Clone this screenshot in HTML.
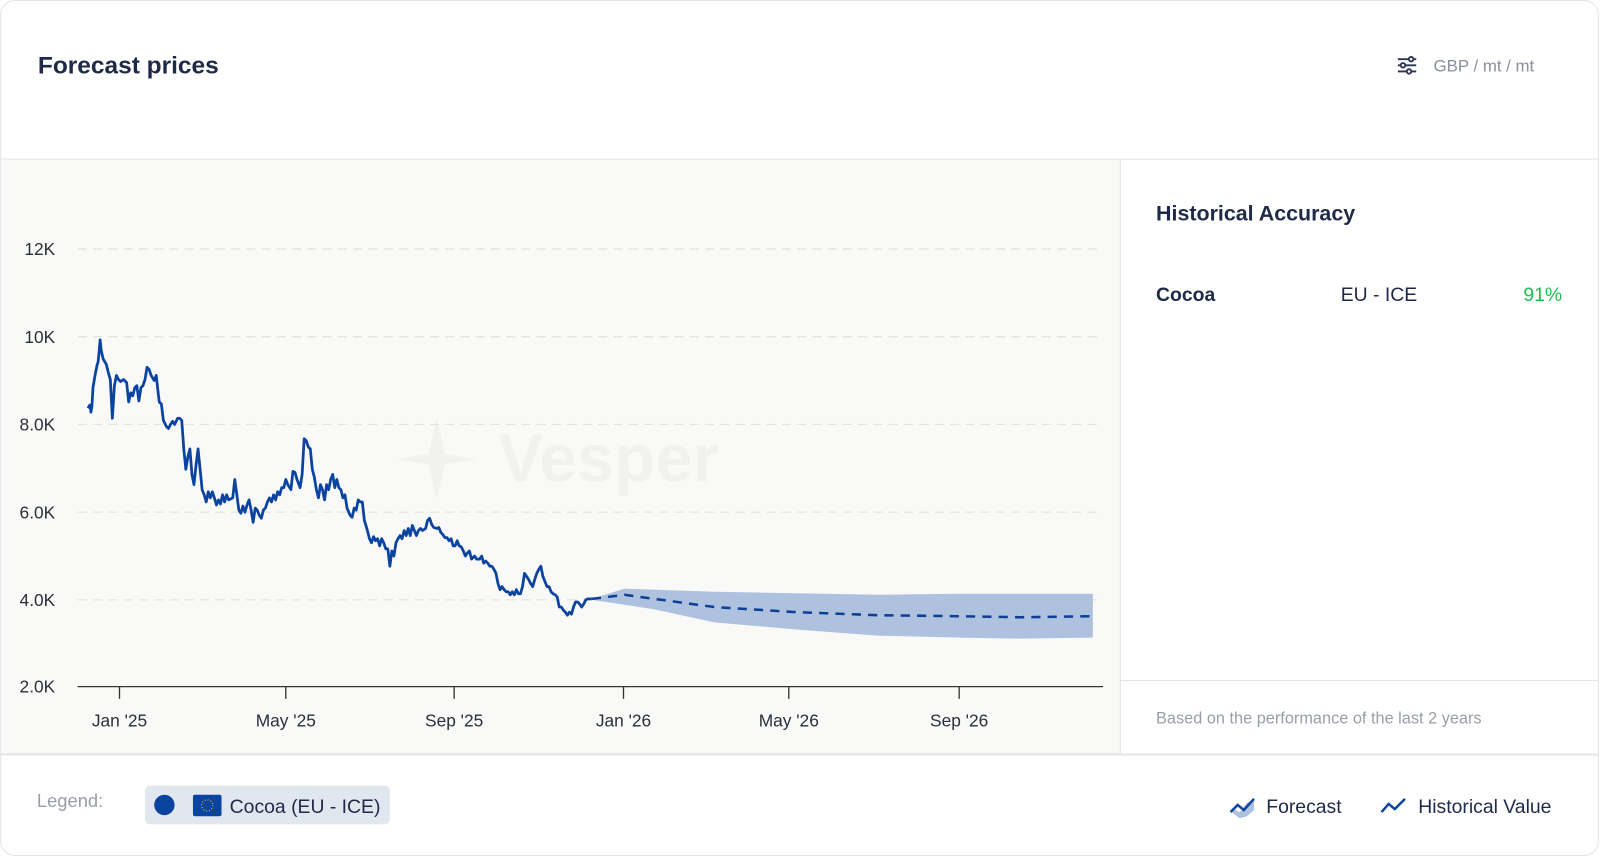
<!DOCTYPE html>
<html><head><meta charset="utf-8"><style>
html,body{margin:0;padding:0;background:#fff;width:1600px;height:857px;overflow:hidden}
svg{display:block}
text{font-family:"Liberation Sans",sans-serif}
</style></head><body>
<svg width="1600" height="857" viewBox="0 0 1568 840" xmlns="http://www.w3.org/2000/svg">
<rect x="0.5" y="0.5" width="1566" height="838" rx="14" fill="#fff" stroke="#e3e4e8"/>
<text x="37" y="72" font-size="24" font-weight="bold" fill="#1f2a48">Forecast prices</text>
<g stroke="#2a3350" stroke-width="1.8" fill="#fff">
<line x1="1370" y1="58" x2="1388" y2="58"/><line x1="1370" y1="64" x2="1388" y2="64"/><line x1="1370" y1="70" x2="1388" y2="70"/>
<circle cx="1383" cy="58" r="2.2"/><circle cx="1375" cy="64" r="2.2"/><circle cx="1381" cy="70" r="2.2"/>
</g>
<text x="1405" y="70" font-size="16.5" fill="#8a8f9e">GBP / mt / mt</text>
<line x1="1" y1="156" x2="1567" y2="156" stroke="#e3e4e8"/>
<rect x="1" y="157" width="1097" height="582" fill="#f9f9f7"/>
<line x1="1098" y1="157" x2="1098" y2="739" stroke="#e3e4e8"/>
<line x1="1" y1="739.5" x2="1567" y2="739.5" stroke="#e3e4e8" stroke-width="2"/>
<g opacity="0.035" fill="#445">
<path d="M428 410 L436 445 L468 450 L436 455 L428 490 L420 455 L388 450 L420 445 Z"/>
<text x="488" y="472" font-size="66" font-weight="bold">Vesper</text>
</g>
<g stroke="#dedede" stroke-dasharray="9 6" stroke-width="1">
<line x1="76" y1="244" x2="1080" y2="244"/><line x1="76" y1="330" x2="1080" y2="330"/>
<line x1="76" y1="416" x2="1080" y2="416"/><line x1="76" y1="502" x2="1080" y2="502"/>
<line x1="76" y1="588" x2="1080" y2="588"/>
</g>
<g font-size="17" fill="#2a2f3a" text-anchor="end">
<text x="54" y="250">12K</text><text x="54" y="336">10K</text><text x="54" y="422">8.0K</text>
<text x="54" y="508">6.0K</text><text x="54" y="594">4.0K</text><text x="54" y="679">2.0K</text>
</g>
<line x1="76" y1="673" x2="1081" y2="673" stroke="#333" stroke-width="1.3"/>
<g stroke="#333" stroke-width="1.3">
<line x1="117" y1="673" x2="117" y2="685"/><line x1="280" y1="673" x2="280" y2="685"/>
<line x1="445" y1="673" x2="445" y2="685"/><line x1="611" y1="673" x2="611" y2="685"/>
<line x1="773" y1="673" x2="773" y2="685"/><line x1="940" y1="673" x2="940" y2="685"/>
</g>
<g font-size="17" fill="#2a2f3a" text-anchor="middle">
<text x="117" y="712">Jan '25</text><text x="280" y="712">May '25</text><text x="445" y="712">Sep '25</text>
<text x="611" y="712">Jan '26</text><text x="773" y="712">May '26</text><text x="940" y="712">Sep '26</text>
</g>
<path d="M580 587 L612 577 L700 580 L860 583 L940 582 L1071 582 L1071 625 L1000 626 L940 625 L860 623 L780 617 L700 610 L640 597 L580 588 Z" fill="#aec2e0"/>
<path d="M580 587 L612 583 L700 595 L780 600 L860 603 L940 604 L1000 605 L1071 604" fill="none" stroke="#0d3f93" stroke-width="2.5" stroke-dasharray="9 7"/>
<polyline fill="none" stroke="#0b43a0" stroke-width="2.7" stroke-linejoin="round" points="86,400 88,397 89,404 90,398 91,380 93,368 95,358 96,355 97,345 98,333 99,343 101,352 104,357 106,365 108,372 110,410 112,378 114,368 116,372 118,374 121,372 124,375 126,394 128,385 130,388 132,380 134,378 136,393 138,380 140,378 142,372 144,360 146,362 148,368 151,373 153,368 155,386 156,394 158,396 160,412 163,418 165,420 167,416 169,413 171,416 174,410 176,410 178,412 180,440 182,460 184,448 186,440 188,465 190,475 192,456 194,440 196,460 198,480 200,485 202,492 204,482 206,488 208,482 210,488 212,495 214,490 216,494 218,485 220,492 222,485 224,490 228,488 230,470 232,485 234,500 236,503 238,496 240,502 242,495 244,490 246,500 248,512 250,498 252,500 254,505 256,508 258,500 260,498 262,492 264,488 266,492 268,485 270,490 272,482 274,485 276,478 278,478 280,470 282,475 285,480 287,462 289,463 291,470 294,478 296,465 298,430 300,432 302,438 304,440 306,460 308,468 310,480 312,488 314,475 316,480 318,490 320,475 322,480 324,470 326,465 328,478 330,470 332,478 334,480 336,488 338,485 340,498 343,505 345,507 347,498 349,500 351,490 353,492 355,492 357,510 360,520 362,528 364,532 366,526 368,530 370,528 372,535 374,528 376,532 378,538 380,538 382,555 384,540 386,545 388,532 390,528 392,525 394,528 396,520 398,525 400,518 402,525 404,515 406,520 408,525 410,520 412,518 414,520 417,518 419,510 421,508 423,514 425,517 428,518 430,517 432,522 434,524 436,527 438,527 440,530 442,528 444,535 446,535 448,530 450,535 452,536 454,540 456,545 458,542 460,540 462,548 465,545 467,548 470,548 472,545 474,552 476,550 478,552 480,555 482,555 484,558 486,562 488,572 490,578 492,575 494,578 496,580 498,580 500,583 502,580 504,583 506,578 508,582 510,582 512,575 514,562 516,565 518,568 520,572 522,575 524,568 526,562 528,558 530,555 532,565 534,570 536,575 538,575 540,580 542,582 544,583 546,585 548,595 550,595 552,598 554,600 556,603 558,600 560,602 562,595 564,590 566,590 568,592 570,595 572,592 574,588 576,587 580,587"/>
<text x="1133" y="216" font-size="21" font-weight="bold" fill="#1f2a48">Historical Accuracy</text>
<text x="1133" y="295" font-size="19" font-weight="bold" fill="#1f2a48">Cocoa</text>
<text x="1314" y="295" font-size="19" fill="#1f2a48">EU - ICE</text>
<text x="1531" y="295" font-size="19" fill="#1fbf4f" text-anchor="end">91%</text>
<line x1="1098" y1="667" x2="1567" y2="667" stroke="#e3e4e8"/>
<text x="1133" y="709" font-size="16" fill="#9a9ea9">Based on the performance of the last 2 years</text>
<text x="36" y="791" font-size="18" fill="#9a9ea9">Legend:</text>
<rect x="142" y="770" width="240" height="38" rx="5" fill="#e1e7ef"/>
<circle cx="161" cy="789" r="10" fill="#0b43a0"/>
<rect x="189" y="779" width="28" height="21" rx="2" fill="#0b43a0"/>
<circle cx="203" cy="789.5" r="5.5" fill="none" stroke="#f5d000" stroke-width="1" stroke-dasharray="1 1.9"/>
<text x="225" y="797" font-size="19" fill="#1f2a48">Cocoa (EU - ICE)</text>
<path d="M1207 792 L1215 796 L1222 787 L1229 784 L1229 794 L1222 800 L1215 802 L1207 796 Z" fill="#aec2e0"/>
<polyline points="1206,796 1213,789 1219,794 1229,783" fill="none" stroke="#0b43a0" stroke-width="2.4"/>
<text x="1241" y="797" font-size="19" fill="#1f2a48">Forecast</text>
<polyline points="1354,796 1361,788 1367,793 1377,783" fill="none" stroke="#0b43a0" stroke-width="2.4"/>
<text x="1390" y="797" font-size="19" fill="#1f2a48">Historical Value</text>
</svg>
</body></html>
